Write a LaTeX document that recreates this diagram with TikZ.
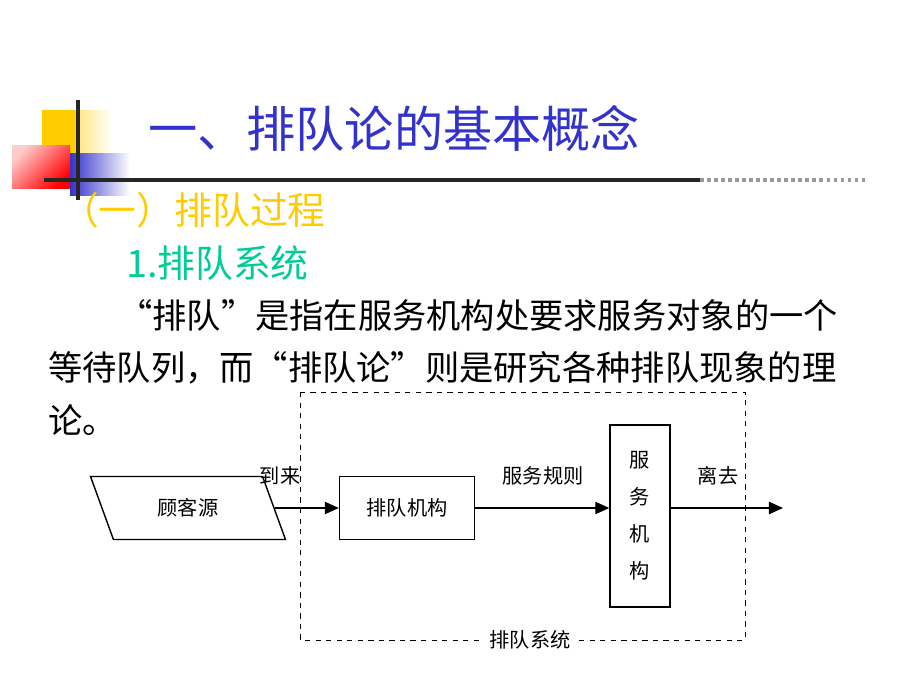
\documentclass[tikz,border=0pt]{standalone}
\usepackage{fontspec}
\setmainfont{Liberation Serif}
\newfontfamily\cjk{Noto Sans CJK SC}
\usetikzlibrary{shapes.geometric,arrows.meta}
\definecolor{titleblue}{RGB}{51,51,204}
\definecolor{subyellow}{RGB}{255,204,0}
\definecolor{tealgreen}{RGB}{0,204,153}
\tikzset{
  body/.style={anchor=west, inner sep=0pt, font=\cjk\fontsize{19.5}{20}\selectfont},
  dlabel/.style={font=\cjk\fontsize{11.5}{14}\selectfont},
  pbox/.style={draw, thick, minimum height=1.26cm},
  flow/.style={-{Triangle[length=8pt,width=7pt]}, thick}
}
\begin{document}
\begin{tikzpicture}[x=0.02cm,y=-0.02cm]
\useasboundingbox (0,0) rectangle (920,690);

% decoration
\shade[left color=subyellow, right color=white] (42,110) rectangle (112,153);
\fill[subyellow] (42,110) rectangle (80,153);
\shade[left color=titleblue, right color=white] (70,153) rectangle (130,195);
\shade[left color=red!20, right color=red, shading angle=45] (12,145) rectangle (70,188);
\draw[line width=2pt, black!85] (78,100) -- (78,200);
\draw[line width=2pt, black!85] (44,180) -- (700,180);
\draw[line width=2pt, black!40, dotted] (700,180) -- (865,180);

% headings
\node[anchor=west, text=titleblue, font=\cjk\fontsize{28}{28}\selectfont] (title) at (142,128) {一、排队论的基本概念};
\node[anchor=west, text=subyellow, font=\cjk\fontsize{21.5}{22}\selectfont] (sub) at (55,210) {（一）排队过程};
\node[anchor=west, text=tealgreen, font=\cjk\fontsize{21.5}{22}\selectfont] (subsub) at (120,263) {1.排队系统};
\node[body] (l1) at (118,315) {“排队”是指在服务机构处要求服务对象的一个};
\node[body] (l2) at (48,368) {等待队列，而“排队论”则是研究各种排队现象的理};
\node[body] (l3) at (48,420) {论。};

% diagram
\draw[dashed] (300,392) rectangle (745,640);
\node[pbox, trapezium, trapezium left angle=110, trapezium right angle=70,
  minimum width=3.3cm, dlabel] (src) at (188,508) {顾客源};
\node[pbox, minimum width=2.7cm, dlabel] (queue) at (407,508) {排队机构};
\node[pbox, minimum width=1.2cm, minimum height=3.64cm, dlabel, align=center,
  font=\cjk\fontsize{11.5}{21}\selectfont] (server) at (640,516) {服\\务\\机\\构};
\coordinate (out) at (783,508);
\draw[flow] (src.east |- queue.west) -- (queue.west);
\draw[flow] (queue.east) -- (server.west |- queue.east);
\draw[flow] (server.east |- queue.east) -- (out);
\node[dlabel] (arrive) at (280,476) {到来};
\node[dlabel] (rule) at (543,476) {服务规则};
\node[dlabel] (leave) at (718,476) {离去};
\node[dlabel, fill=white] (sys) at (530,640) {排队系统};
\end{tikzpicture}
\end{document}
